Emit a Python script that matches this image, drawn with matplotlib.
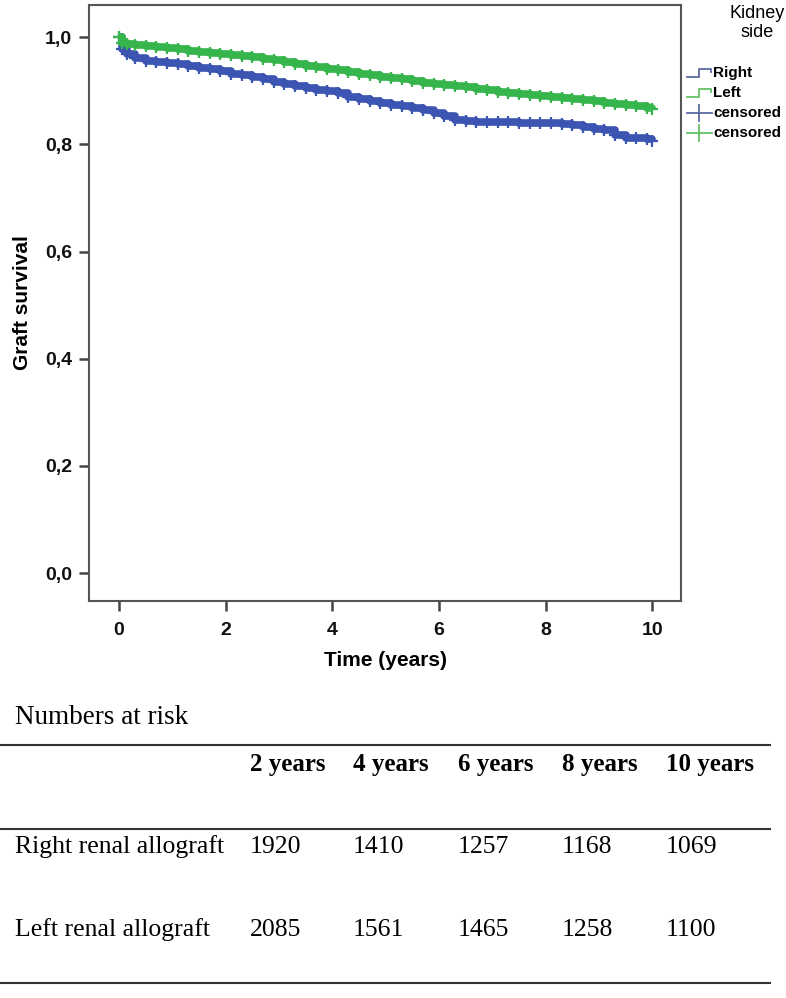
import matplotlib.pyplot as plt
from matplotlib.lines import Line2D

# =====================================
# DATA
# =====================================

TIMES = [
    0.0, 0.05, 0.15, 0.3, 0.5, 0.7, 0.9, 1.1, 1.3, 1.5, 1.7, 1.9,
    2.1, 2.3, 2.5, 2.7, 2.9, 3.1, 3.3, 3.5, 3.7, 3.9, 4.1, 4.3,
    4.5, 4.7, 4.9, 5.1, 5.3, 5.5, 5.7, 5.9, 6.1, 6.3, 6.5, 6.7,
    6.9, 7.1, 7.3, 7.5, 7.7, 7.9, 8.1, 8.3, 8.5, 8.7, 8.9, 9.1,
    9.3, 9.5, 9.7, 9.9, 10.0
]

RIGHT_SURV = [
    1.000, 0.978, 0.968, 0.962, 0.956, 0.953, 0.952, 0.950, 0.946,
    0.943, 0.940, 0.936, 0.932, 0.929, 0.926, 0.921, 0.917, 0.913,
    0.909, 0.905, 0.902, 0.899, 0.895, 0.889, 0.884, 0.880, 0.877,
    0.874, 0.871, 0.868, 0.865, 0.858, 0.852, 0.846, 0.843, 0.842,
    0.842, 0.841, 0.841, 0.840, 0.840, 0.839, 0.839, 0.838, 0.837,
    0.832, 0.829, 0.826, 0.818, 0.812, 0.811, 0.810, 0.806
]

LEFT_SURV = [
    1.000, 0.990, 0.987, 0.985, 0.983, 0.981, 0.979, 0.977, 0.975,
    0.973, 0.971, 0.969, 0.967, 0.965, 0.963, 0.960, 0.957, 0.953,
    0.950, 0.947, 0.944, 0.941, 0.938, 0.935, 0.932, 0.929, 0.926,
    0.924, 0.921, 0.918, 0.915, 0.913, 0.911, 0.909, 0.907, 0.904,
    0.901, 0.898, 0.896, 0.894, 0.892, 0.890, 0.888, 0.886, 0.884,
    0.882, 0.880, 0.878, 0.876, 0.874, 0.871, 0.868, 0.866
]

X_TICKS = [0, 2, 4, 6, 8, 10]
Y_TICKS = [0.0, 0.2, 0.4, 0.6, 0.8, 1.0]
Y_TICK_LABELS = ["0,0", "0,2", "0,4", "0,6", "0,8", "1,0"]

LEGEND_LABELS = ["Right", "Left", "censored", "censored"]

RISK_HEADERS = ["2 years", "4 years", "6 years", "8 years", "10 years"]
RISK_ROWS = ["Right renal allograft", "Left renal allograft"]
RISK_RIGHT = [1920, 1410, 1257, 1168, 1069]
RISK_LEFT = [2085, 1561, 1465, 1258, 1100]

RIGHT_COLOR = "#3c55b2"
LEFT_COLOR = "#35b54c"
RIGHT_LEG = "#5b6aa6"
LEFT_LEG = "#62c266"

SANS = ["Liberation Sans", "DejaVu Sans"]
SERIF = ["Liberation Serif", "DejaVu Serif"]

# =====================================
# FIGURE
# =====================================

fig = plt.figure(figsize=(7.86, 9.98), dpi=100)

ax = fig.add_axes([0.1132, 0.3978, 0.7532, 0.5972])

# =====================================
# CURVES
# =====================================

ax.step(
    TIMES, RIGHT_SURV, where="post",
    color=RIGHT_COLOR, linewidth=5.5, solid_capstyle="butt"
)
ax.plot(
    TIMES, RIGHT_SURV, linestyle="none", marker="+",
    markersize=8, markeredgewidth=1.6, color=RIGHT_COLOR
)

ax.step(
    TIMES, LEFT_SURV, where="post",
    color=LEFT_COLOR, linewidth=5.5, solid_capstyle="butt"
)
ax.plot(
    TIMES, LEFT_SURV, linestyle="none", marker="+",
    markersize=8, markeredgewidth=1.6, color=LEFT_COLOR
)

# =====================================
# AXES
# =====================================

ax.set_xlim(-0.563, 10.54)
ax.set_ylim(-0.052, 1.060)

ax.set_xticks(X_TICKS)
ax.set_yticks(Y_TICKS)
ax.set_xticklabels([str(t) for t in X_TICKS])
ax.set_yticklabels(Y_TICK_LABELS)

for lab in ax.get_xticklabels() + ax.get_yticklabels():
    lab.set_family(SANS)
    lab.set_fontweight("bold")
    lab.set_fontsize(14)
    lab.set_color("#111111")

ax.tick_params(
    direction="out", length=7, width=1.8, color="#444444", pad=5
)
ax.tick_params(axis="x", pad=8)

for spine in ax.spines.values():
    spine.set_color("#555555")
    spine.set_linewidth(1.5)

fig.text(
    23 / 786, 1 - 303 / 998, "Graft survival",
    family=SANS, fontweight="bold", fontsize=15,
    rotation=90, ha="center", va="center"
)

fig.text(
    386 / 786, 1 - 660 / 998, "Time (years)",
    family=SANS, fontweight="bold", fontsize=15,
    ha="center", va="center"
)

# =====================================
# LEGEND
# =====================================

fig.text(
    757 / 786, 1 - 23 / 998, "Kidney\nside",
    family=SANS, fontsize=13, ha="center", va="center",
    linespacing=1.2
)

legend_colors = [RIGHT_LEG, LEFT_LEG, RIGHT_LEG, LEFT_LEG]
legend_y = [73, 93, 113, 133]

for i, (label, col, py) in enumerate(
    zip(LEGEND_LABELS, legend_colors, legend_y)
):
    if i < 2:
        xs = [687, 699, 699, 711, 711]
        ys = [py + 4, py + 4, py - 4, py - 4, py - 1]
        fig.add_artist(Line2D(
            [x / 786 for x in xs], [1 - y / 998 for y in ys],
            color=col, linewidth=1.3, transform=fig.transFigure
        ))
    else:
        fig.add_artist(Line2D(
            [687 / 786, 712 / 786], [1 - py / 998, 1 - py / 998],
            color=col, linewidth=1.3, transform=fig.transFigure
        ))
        fig.add_artist(Line2D(
            [699 / 786, 699 / 786],
            [1 - (py - 8) / 998, 1 - (py + 8) / 998],
            color=col, linewidth=1.3, transform=fig.transFigure
        ))
    fig.text(
        713 / 786, 1 - py / 998, label,
        family=SANS, fontweight="bold", fontsize=11,
        ha="left", va="center"
    )

# =====================================
# NUMBERS AT RISK TABLE
# =====================================

fig.text(
    15 / 786, 1 - 717 / 998, "Numbers at risk",
    family=SERIF, fontsize=19.5, ha="left", va="center"
)

for y in [745, 829, 983]:
    fig.add_artist(Line2D(
        [0, 770 / 786], [1 - y / 998, 1 - y / 998],
        color="#333333", linewidth=1.5, transform=fig.transFigure
    ))

col_x = [250, 353, 458, 562, 666]

for x, head in zip(col_x, RISK_HEADERS):
    fig.text(
        x / 786, 1 - 764 / 998, head,
        family=SERIF, fontweight="bold", fontsize=18,
        ha="left", va="center"
    )

for row_y, row_label, values in zip(
    [847, 930], RISK_ROWS, [RISK_RIGHT, RISK_LEFT]
):
    fig.text(
        15 / 786, 1 - row_y / 998, row_label,
        family=SERIF, fontsize=18.5, ha="left", va="center"
    )
    for x, v in zip(col_x, values):
        fig.text(
            x / 786, 1 - row_y / 998, str(v),
            family=SERIF, fontsize=18.5, ha="left", va="center"
        )

fig.savefig("out.png", dpi=100)
